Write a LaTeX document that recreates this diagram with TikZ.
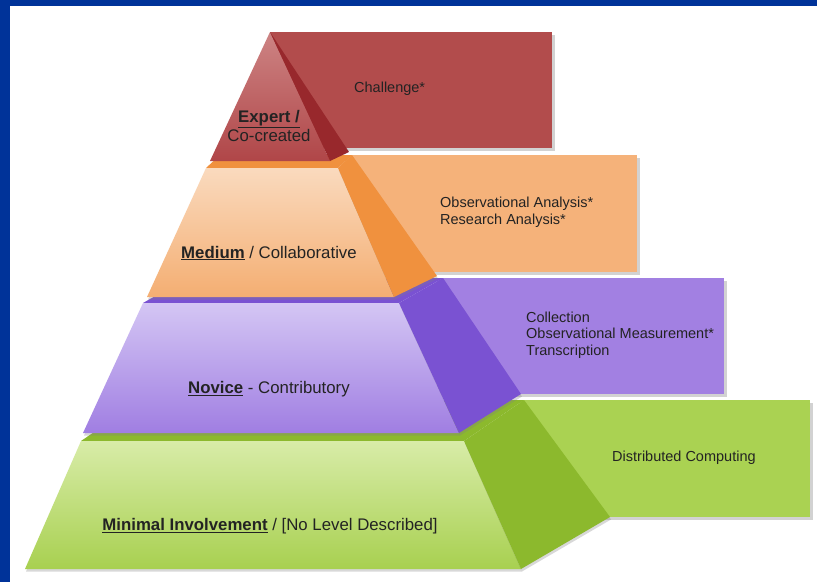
\documentclass[tikz,border=0pt]{standalone}
\usepackage{fontspec}
\setmainfont{Liberation Sans}
\usetikzlibrary{shadows}

\definecolor{frameblue}{RGB}{0,51,153}
\definecolor{redpanel}{RGB}{178,76,76}
\definecolor{redtop}{RGB}{205,132,132}
\definecolor{redbot}{RGB}{176,70,72}
\definecolor{redside}{RGB}{152,40,44}
\definecolor{orangepanel}{RGB}{245,178,122}
\definecolor{orangetop}{RGB}{250,218,190}
\definecolor{orangebot}{RGB}{244,174,114}
\definecolor{orangeside}{RGB}{240,145,62}
\definecolor{purplepanel}{RGB}{162,128,226}
\definecolor{purpletop}{RGB}{212,198,244}
\definecolor{purplebot}{RGB}{160,126,226}
\definecolor{purpleside}{RGB}{122,82,210}
\definecolor{greenpanel}{RGB}{170,210,82}
\definecolor{greentop}{RGB}{216,236,168}
\definecolor{greenbot}{RGB}{168,208,80}
\definecolor{greenside}{RGB}{140,185,45}
\definecolor{labeltext}{RGB}{35,35,35}

\begin{document}
\begin{tikzpicture}[x=1pt,y=-1pt]
\tikzstyle{panel}=[drop shadow={shadow xshift=2.5pt, shadow yshift=-2.5pt, opacity=.35}]
\tikzstyle{face}=[drop shadow={shadow xshift=1pt, shadow yshift=-2.5pt, opacity=.3}]
\tikzstyle{lvl}=[font=\fontsize{16.8}{18.5}\selectfont, text=labeltext, align=center, inner sep=0pt]
\tikzstyle{act}=[font=\fontsize{14.5}{16.5}\selectfont, text=labeltext, align=left, inner sep=0pt, anchor=west]

  \useasboundingbox (0,0) rectangle (817,582);
  \fill[frameblue] (0,0) rectangle (817,582);
  \fill[white] (10,6) rectangle (817,582);

  \fill[redpanel, panel] (270,32) rectangle (552,148);
  \fill[orangepanel, panel] (345,155) rectangle (637,272);
  \fill[purplepanel, panel] (437,278) rectangle (724,394);
  \fill[greenpanel, panel] (520,400) rectangle (810,517);

  \fill[greenside] (81,441) -- (464,441) -- (524,400) -- (141,400) -- cycle;
  \shade[top color=greentop, bottom color=greenbot, face] (81,441) -- (464,441) -- (521,569) -- (25,569) -- cycle;
  \fill[greenside, face] (464,441) -- (524,400) -- (610,517) -- (521,569) -- cycle;

  \fill[purpleside] (143,303) -- (399,303) -- (443,278) -- (187,278) -- cycle;
  \shade[top color=purpletop, bottom color=purplebot, face] (143,303) -- (399,303) -- (459,433) -- (83,433) -- cycle;
  \fill[purpleside, face] (399,303) -- (443,278) -- (521,394) -- (459,433) -- cycle;

  \fill[orangeside] (206,168) -- (338,168) -- (352,155) -- (220,155) -- cycle;
  \shade[top color=orangetop, bottom color=orangebot, face] (206,168) -- (338,168) -- (394,297) -- (147,297) -- cycle;
  \fill[orangeside, face] (338,168) -- (352,155) -- (437,276) -- (394,297) -- cycle;

  \shade[top color=redtop, bottom color=redbot] (270,32) -- (330,161) -- (210,161) -- cycle;
  \fill[redside] (270,32) -- (349,152) -- (330,161) -- cycle;

  \node[lvl] (expert) at (269,126) {\textbf{\underline{Expert /}}\\Co-created};
  \node[lvl] (medium) at (269,253) {\textbf{\underline{Medium}} / Collaborative};
  \node[lvl] (novice) at (269,389) {\textbf{\underline{Novice}} - Contributory};
  \node[lvl] (minimal) at (270,526) {\textbf{\underline{Minimal Involvement}} / [No Level Described]};

  \node[act] (challenge) at (354,89) {Challenge*};
  \node[act] (analysis) at (440,212) {Observational Analysis*\\Research Analysis*};
  \node[act] (collection) at (526,335) {Collection\\Observational Measurement*\\Transcription};
  \node[act] (computing) at (612,458) {Distributed Computing};

\end{tikzpicture}
\end{document}
